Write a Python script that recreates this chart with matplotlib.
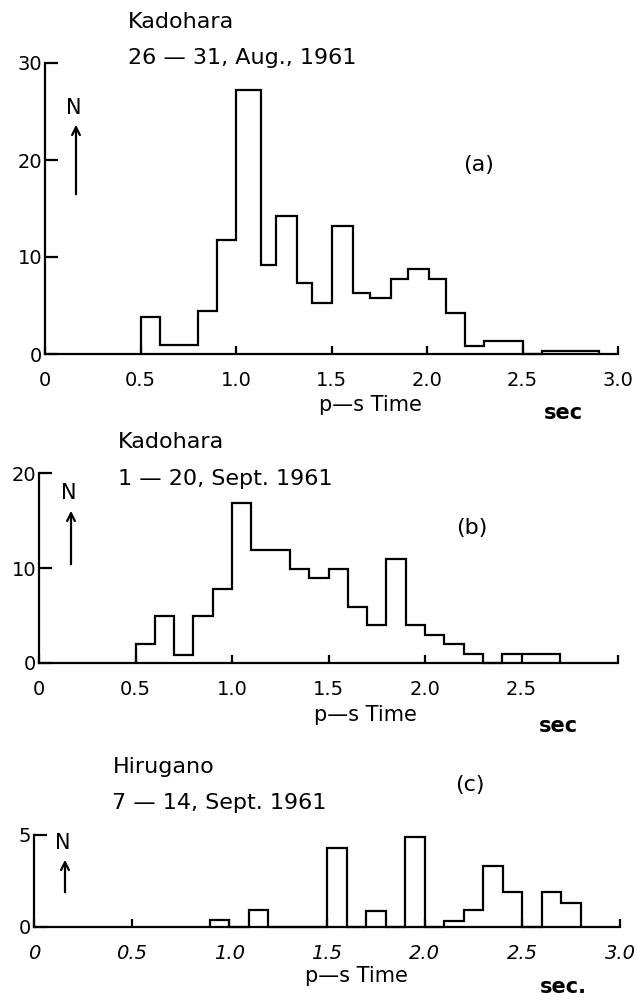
import matplotlib
matplotlib.use('Agg')
import matplotlib.pyplot as plt

# (a) Kadohara 26-31 Aug 1961
a_edges = [0.5, 0.6, 0.8, 0.9, 1.0, 1.13, 1.21, 1.32, 1.4, 1.5, 1.61, 1.7, 1.81, 1.9, 2.01, 2.1, 2.2, 2.3, 2.5, 2.6, 2.9]
a_counts = [3.8, 0.9, 4.4, 11.8, 27.2, 9.2, 14.2, 7.3, 5.3, 13.2, 6.3, 5.8, 7.7, 8.8, 7.7, 4.2, 0.85, 1.3, 0, 0.35]

# (b) Kadohara 1-20 Sept 1961
b_edges = [0.5, 0.6, 0.7, 0.8, 0.9, 1.0, 1.1, 1.3, 1.4, 1.5, 1.6, 1.7, 1.8, 1.9, 2.0, 2.1, 2.2, 2.3, 2.4, 2.7]
b_counts = [2, 5, 0.8, 5, 7.8, 16.8, 11.9, 9.9, 9, 9.9, 5.9, 4, 11, 4, 3, 2, 1, 0, 1]

# (c) Hirugano 7-14 Sept 1961
c_edges = [0.9, 1.0, 1.1, 1.2, 1.5, 1.6, 1.7, 1.8, 1.9, 2.0, 2.1, 2.2, 2.3, 2.4, 2.5, 2.6, 2.7, 2.8]
c_counts = [0.4, 0, 0.9, 0, 4.3, 0, 0.85, 0, 4.9, 0, 0.35, 0.9, 3.3, 1.9, 0, 1.9, 1.3]

a_xticks = [0, 0.5, 1.0, 1.5, 2.0, 2.5, 3.0]
a_xlabels = ['0', '0.5', '1.0', '1.5', '2.0', '2.5', '3.0']
b_xticks = [0, 0.5, 1.0, 1.5, 2.0, 2.5, 3.0]
b_xlabels = ['0', '0.5', '1.0', '1.5', '2.0', '2.5', '']
c_xticks = [0, 0.5, 1.0, 1.5, 2.0, 2.5, 3.0]
c_xlabels = ['0', '0.5', '1.0', '1.5', '2.0', '2.5', '3.0']

W, H = 636, 1000
LW = 1.6
FS = 14


def fx(px):
    return px / W


def fy(py):
    return 1 - py / H


fig = plt.figure(figsize=(6.36, 10), dpi=100)


def panel(rect, edges, counts, ymax, yticks, xticks, xlabels, italic=False):
    ax = fig.add_axes(rect)
    ax.stairs(counts, edges, color='k', lw=LW, baseline=0, clip_on=False)
    ax.set_xlim(0, 3.0)
    ax.set_ylim(0, ymax)
    ax.spines['top'].set_visible(False)
    ax.spines['right'].set_visible(False)
    ax.spines['left'].set_linewidth(LW)
    ax.spines['bottom'].set_linewidth(LW)
    ax.set_xticks(xticks)
    ax.set_xticklabels(xlabels, fontsize=FS, style='italic' if italic else 'normal')
    ax.set_yticks(yticks)
    ax.set_yticklabels([str(t) for t in yticks], fontsize=FS)
    ax.tick_params(axis='x', direction='in', length=6, width=LW, pad=12)
    ax.tick_params(axis='y', direction='in', length=9, width=LW, pad=2)
    ax.patch.set_alpha(0)
    return ax


ax_a = panel([fx(45), fy(354), fx(618) - fx(45), (354 - 63) / H],
             a_edges, a_counts, 30, [0, 10, 20, 30], a_xticks, a_xlabels)
ax_b = panel([fx(39), fy(663), fx(618) - fx(39), (663 - 473) / H],
             b_edges, b_counts, 20, [0, 10, 20], b_xticks, b_xlabels)
ax_c = panel([fx(34), fy(927), fx(620) - fx(34), (927 - 835) / H],
             c_edges, c_counts, 5, [0, 5], c_xticks, c_xlabels, italic=True)

# titles / station names
fig.text(fx(128), fy(22), 'Kadohara', fontsize=16, va='center')
fig.text(fx(128), fy(58), '26 — 31, Aug., 1961', fontsize=16, va='center')
fig.text(fx(118), fy(442), 'Kadohara', fontsize=16, va='center')
fig.text(fx(118), fy(479), '1 — 20, Sept. 1961', fontsize=16, va='center')
fig.text(fx(113), fy(767), 'Hirugano', fontsize=16, va='center')
fig.text(fx(112), fy(803), '7 — 14, Sept. 1961', fontsize=16, va='center')

ax_a.text(2.27, 19.5, '(a)', fontsize=16, ha='center', va='center')
ax_b.text(2.24, 14.2, '(b)', fontsize=16, ha='center', va='center')
fig.text(fx(470), fy(785), '(c)', fontsize=16, ha='center', va='center')

# N with arrow
for nx, ny, ay0, ay1 in [(74, 108, 197, 122), (69, 493, 567, 508), (63, 843, 895, 857)]:
    fig.text(fx(nx), fy(ny), 'N', fontsize=15, ha='center', va='center')
    fig.add_artist(matplotlib.patches.FancyArrowPatch(
        (fx(nx + 2), fy(ay0)), (fx(nx + 2), fy(ay1)), transform=fig.transFigure,
        arrowstyle='->', mutation_scale=14, lw=LW, color='k'))

# axis titles
for cx, cy, sx, sy, s in [(370, 405, 563, 413, 'sec'), (365, 715, 558, 726, 'sec'), (356, 976, 563, 987, 'sec.')]:
    fig.text(fx(cx), fy(cy), 'p—s Time', fontsize=15, ha='center', va='center')
    fig.text(fx(sx), fy(sy), s, fontsize=15, ha='center', va='center', weight='bold')

fig.savefig('out.png', dpi=100)
